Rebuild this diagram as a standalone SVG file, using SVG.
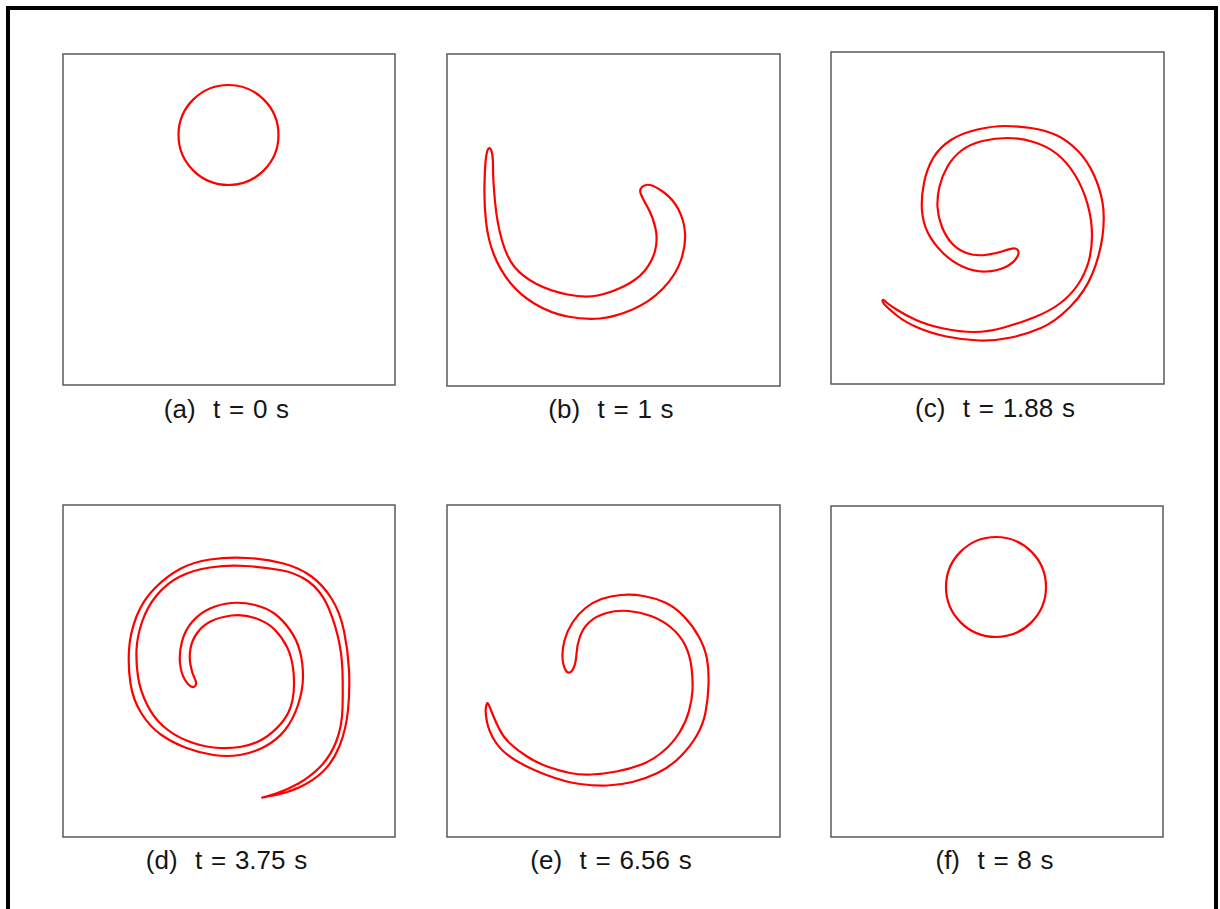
<svg xmlns="http://www.w3.org/2000/svg" width="1220" height="909" viewBox="0 0 1220 909">
<style>
.frame{fill:none;stroke:#5a5a5a;stroke-width:1.5}
.curve{fill:none;stroke:#ff0000;stroke-width:2.2;stroke-linejoin:round}
.lbl{font-family:"Liberation Sans",Arial,sans-serif;font-size:26px;word-spacing:1.5px;fill:#151515;text-anchor:middle;white-space:pre}
</style>
<rect x="0" y="0" width="1220" height="909" fill="#ffffff"/>
<rect x="8" y="8" width="1208" height="1000" fill="none" stroke="#000" stroke-width="4"/>

<g id="panel-a">
<rect class="frame" x="63" y="54" width="332" height="331"/>
<circle class="curve" cx="228.5" cy="135" r="50"/>
<text class="lbl" x="226.5" y="418">(a)  t = 0 s</text>
</g>

<g id="panel-b">
<rect class="frame" x="447" y="54" width="333" height="332"/>
<path class="curve" d="M488.5,148.5 Q490,147 491.5,151 Q493,155 493,167.5 Q493,180 495,201.5 Q497,223 502,240.5 Q507,258 515,267.5 Q523,277 536.5,284 Q550,291 567.5,294.5 Q585,298 597.5,295.5 Q610,293 623.5,286.5 Q637,280 644.5,271 Q652,262 655,251 Q658,240 655.5,228.5 Q653,217 648,208 Q643,199 641,194.5 Q639,190 642,187 Q645,184 650,185 Q655,186 664,192.5 Q673,199 678.5,209.5 Q684,220 685,232.5 Q686,245 681,260 Q676,275 663,288.5 Q650,302 632.5,309.5 Q615,317 600,318.5 Q585,320 567.5,316.5 Q550,313 535,304 Q520,295 510,282.5 Q500,270 494,255 Q488,240 486,221.5 Q484,203 484.5,184 Q485,165 486,157.5 Q487,150 488.5,148.5 Z"/>
<text class="lbl" x="611" y="418">(b)  t = 1 s</text>
</g>

<g id="panel-c">
<rect class="frame" x="831" y="52" width="333" height="332"/>
<path class="curve" d="M882.5,300.5 Q882,302 886,306 Q890,310 897.5,316 Q905,322 917.5,327.5 Q930,333 946.5,336.5 Q963,340 979,340.5 Q995,341 1011,337.5 Q1027,334 1041,328 Q1055,322 1070,307 Q1085,292 1092.5,273.5 Q1100,255 1102.5,236 Q1105,217 1102.5,202.5 Q1100,188 1093.5,174 Q1087,160 1077,150 Q1067,140 1056,135 Q1045,130 1031,128 Q1017,126 1005,126 Q993,126 977.5,129.5 Q962,133 951,140 Q940,147 933.5,157.5 Q927,168 924,183 Q921,198 922,210.5 Q923,223 928,233 Q933,243 942.5,252.5 Q952,262 963.5,267 Q975,272 986,271.5 Q997,271 1004.5,267.5 Q1012,264 1015.5,259.5 Q1019,255 1018.5,252 Q1018,249 1015,248.5 Q1012,248 1003.5,251 Q995,254 985,255 Q975,256 966.5,253 Q958,250 952,243.5 Q946,237 942,227 Q938,217 937.5,207 Q937,197 939.5,186.5 Q942,176 947.5,166.5 Q953,157 961.5,150.5 Q970,144 982.5,141 Q995,138 1007.5,138 Q1020,138 1033.5,142 Q1047,146 1057,154 Q1067,162 1075,175 Q1083,188 1087.5,204 Q1092,220 1092,235 Q1092,250 1088.5,262 Q1085,274 1078,284.5 Q1071,295 1060.5,303 Q1050,311 1035,317 Q1020,323 1004,327.5 Q988,332 974,332 Q960,332 943.5,328.5 Q927,325 916,320 Q905,315 896.5,309.5 Q888,304 885.5,301.5 Q883,299 882.5,300.5 Z"/>
<text class="lbl" x="995" y="417">(c)  t = 1.88 s</text>
</g>

<g id="panel-d">
<rect class="frame" x="63" y="505" width="332" height="332"/>
<path class="curve" d="M262.5,797.5 Q260,798 273.5,795.5 Q287,793 300,787 Q313,781 323,771.5 Q333,762 339.5,746 Q346,730 348,710 Q350,690 349,670 Q348,650 344,631 Q340,612 331.5,598.5 Q323,585 311.5,576.5 Q300,568 283.5,563.5 Q267,559 247,558 Q227,557 210,559.5 Q193,562 180,569 Q167,576 155,588 Q143,600 136.5,616.5 Q130,633 129,650 Q128,667 130.5,683.5 Q133,700 141.5,713.5 Q150,727 161.5,735 Q173,743 186.5,748 Q200,753 213.5,755 Q227,757 240,755 Q253,753 265,746.5 Q277,740 285,730 Q293,720 298,705 Q303,690 303,676.5 Q303,663 300,651.5 Q297,640 290,630 Q283,620 275,614 Q267,608 255,605 Q243,602 231.5,603 Q220,604 210,608.5 Q200,613 192.5,621.5 Q185,630 182,641.5 Q179,653 180,663 Q181,673 184.5,679 Q188,685 191,686.5 Q194,688 195.5,685.5 Q197,683 194.5,678 Q192,673 190.5,665 Q189,657 190.5,648.5 Q192,640 197.5,632.5 Q203,625 211.5,621 Q220,617 231.5,615.5 Q243,614 255,618 Q267,622 274.5,629.5 Q282,637 287,647 Q292,657 293.5,672 Q295,687 292.5,700 Q290,713 281.5,723 Q273,733 263,739 Q253,745 240,747 Q227,749 213.5,747.5 Q200,746 186.5,740.5 Q173,735 163,726 Q153,717 146.5,703.5 Q140,690 138,676.5 Q136,663 136.5,650 Q137,637 142,622 Q147,607 157,595 Q167,583 180,576.5 Q193,570 210,567.5 Q227,565 245,566 Q263,567 280,570 Q297,573 308.5,581.5 Q320,590 326.5,603.5 Q333,617 337.5,635 Q342,653 342.5,671.5 Q343,690 342.5,708.5 Q342,727 336,742 Q330,757 320,767 Q310,777 298.5,783.5 Q287,790 276,793.5 Q265,797 262.5,797.5 Z"/>
<text class="lbl" x="226.5" y="869">(d)  t = 3.75 s</text>
</g>

<g id="panel-e">
<rect class="frame" x="447" y="505" width="333" height="332"/>
<path class="curve" d="M488,703.5 Q487,702 486,707 Q485,712 487,722 Q489,732 495.5,742 Q502,752 515,760 Q528,768 546.5,775 Q565,782 580,784 Q595,786 607.5,785.5 Q620,785 632.5,782 Q645,779 657.5,773 Q670,767 680,757 Q690,747 696.5,736 Q703,725 705.5,712.5 Q708,700 708.5,685 Q709,670 707,659 Q705,648 699,637 Q693,626 684,616.5 Q675,607 665,602.5 Q655,598 643.5,596 Q632,594 621,595 Q610,596 601.5,599 Q593,602 585.5,608 Q578,614 572.5,622.5 Q567,631 564.5,640.5 Q562,650 562.5,657.5 Q563,665 565,669 Q567,673 569.5,672.5 Q572,672 574,667 Q576,662 576.5,653.5 Q577,645 580,636.5 Q583,628 589.5,622 Q596,616 606.5,613 Q617,610 628.5,611 Q640,612 651,616 Q662,620 671,627.5 Q680,635 685,645 Q690,655 691.5,667.5 Q693,680 692.5,690 Q692,700 689,711 Q686,722 679.5,732.5 Q673,743 663,751.5 Q653,760 641.5,764.5 Q630,769 616.5,771.5 Q603,774 591.5,774.5 Q580,775 570,773 Q560,771 548.5,767 Q537,763 527,756.5 Q517,750 510,743.5 Q503,737 498.5,727.5 Q494,718 491.5,711.5 Q489,705 488,703.5 Z"/>
<text class="lbl" x="611" y="869">(e)  t = 6.56 s</text>
</g>

<g id="panel-f">
<rect class="frame" x="831" y="506" width="332" height="331"/>
<circle class="curve" cx="996" cy="587" r="50"/>
<text class="lbl" x="994.5" y="869">(f)  t = 8 s</text>
</g>
</svg>
